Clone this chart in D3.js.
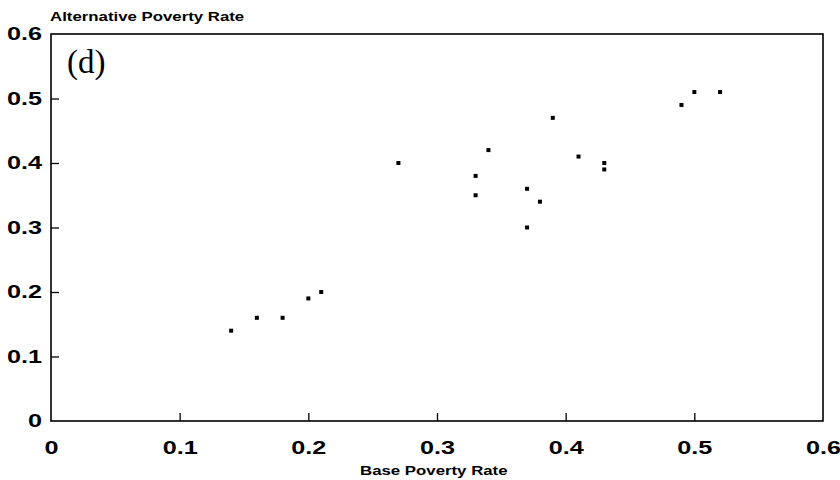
<!DOCTYPE html>
<meta charset="utf-8">
<script src="https://cdn.jsdelivr.net/npm/d3@7"></script>
<style>
body { margin: 0; background: #fff; }
text { fill: #000; }
.tick text, .lab { font-family: "Liberation Sans", Arial, sans-serif; font-weight: bold; }
</style>
<body>
<script>

// base vs alternative poverty rate
var baseRate = [0.14, 0.16, 0.18, 0.20, 0.21, 0.27, 0.33, 0.33, 0.34, 0.37, 0.37, 0.38, 0.39, 0.41, 0.43, 0.43, 0.49, 0.50, 0.52];
var altRate  = [0.14, 0.16, 0.16, 0.19, 0.20, 0.40, 0.38, 0.35, 0.42, 0.36, 0.30, 0.34, 0.47, 0.41, 0.40, 0.39, 0.49, 0.51, 0.51];
var xTicks = [0, 0.1, 0.2, 0.3, 0.4, 0.5, 0.6];
var yTicks = [0, 0.1, 0.2, 0.3, 0.4, 0.5, 0.6];

var width = 840, height = 480;
var plotLeft = 51, plotRight = 823, plotTop = 34, plotBottom = 421;
var stretch = 1.4;

var svg = d3.select("body").append("svg")
    .attr("width", width)
    .attr("height", height);

var x = d3.scaleLinear().domain([0, 0.6]).range([plotLeft, plotRight]);
var y = d3.scaleLinear().domain([0, 0.6]).range([plotBottom, plotTop]);

function fmt(d) { return d === 0 ? "0" : d3.format(".1f")(d); }

// widen the label glyphs like the original print
function widen(sel) {
  sel.each(function() {
    var w = this.getComputedTextLength();
    d3.select(this).attr("textLength", w * stretch).attr("lengthAdjust", "spacingAndGlyphs");
  });
}

var xAxis = svg.append("g")
    .attr("transform", "translate(0," + plotBottom + ")")
    .call(d3.axisBottom(x).tickValues(xTicks).tickFormat(fmt).tickSize(-8).tickPadding(20));

var yAxis = svg.append("g")
    .attr("transform", "translate(" + plotLeft + ",0)")
    .call(d3.axisLeft(y).tickValues(yTicks).tickFormat(fmt).tickSize(-8).tickPadding(9));

[xAxis, yAxis].forEach(function(a) {
  a.select(".domain").remove();
  a.selectAll(".tick line").attr("stroke", "#000").attr("stroke-width", 1.3);
  a.selectAll(".tick text").style("font-size", "18px");
  a.selectAll(".tick").filter(function(d) { return d === 0 || d === 0.6; }).select("line").remove();
});
xAxis.selectAll(".tick text").attr("dy", "0.71em");
xAxis.selectAll(".tick text").call(widen);
yAxis.selectAll(".tick text").call(widen);

// frame
svg.append("rect")
    .attr("x", plotLeft).attr("y", plotTop)
    .attr("width", plotRight - plotLeft).attr("height", plotBottom - plotTop)
    .attr("fill", "none").attr("stroke", "#000").attr("stroke-width", 1.6);

// points
svg.append("g")
    .selectAll("rect")
    .data(baseRate)
    .enter()
    .append("rect")
    .attr("x", function(d) { return x(d) - 2; })
    .attr("y", function(d, i) { return y(altRate[i]) - 2; })
    .attr("width", 4)
    .attr("height", 4)
    .attr("fill", "#000");

svg.append("text")
    .attr("class", "lab")
    .attr("x", 50)
    .attr("y", 21)
    .style("font-size", "12px")
    .text("Alternative Poverty Rate")
    .call(widen);

svg.append("text")
    .attr("class", "lab")
    .attr("x", 360)
    .attr("y", 475)
    .style("font-size", "12px")
    .text("Base Poverty Rate")
    .call(widen);

svg.append("text")
    .attr("x", 67)
    .attr("y", 73)
    .style("font-family", "'Liberation Serif', 'Times New Roman', serif")
    .style("font-size", "33px")
    .text("(d)");

</script>
</body>
